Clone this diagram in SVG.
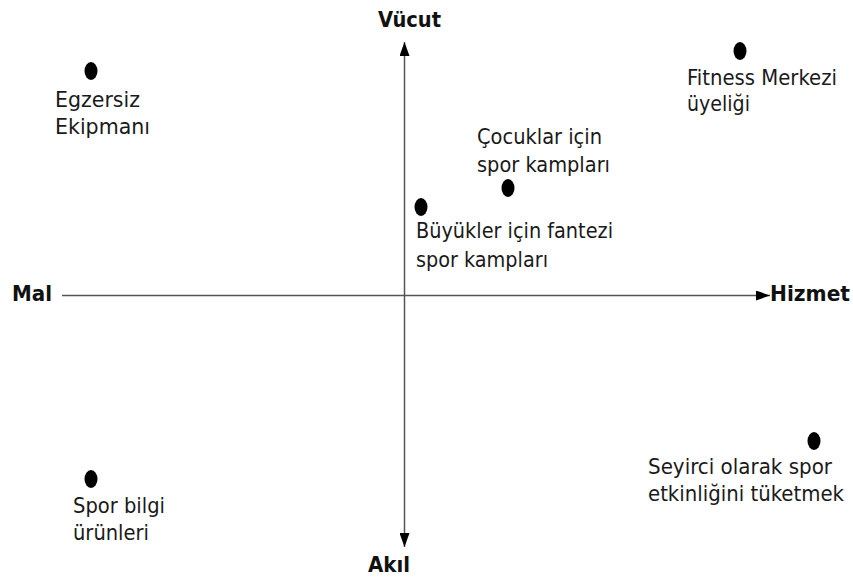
<svg xmlns="http://www.w3.org/2000/svg" width="853" height="577" viewBox="0 0 853 577">
<style>
.lbl{font-family:"DejaVu Sans Condensed","DejaVu Sans",sans-serif;font-size:22px;fill:#1a1a1a}
.ax{font-family:"DejaVu Sans","Liberation Sans",sans-serif;font-size:21px;font-weight:bold;fill:#111}
.dot{fill:#000}
.axis{stroke:#555;stroke-width:1.5;fill:none}
</style>
<defs>
<marker id="ah" viewBox="0 0 14 10" refX="14" refY="5" markerWidth="14" markerHeight="10" markerUnits="userSpaceOnUse" orient="auto">
<path d="M0,0 L14,5 L0,10 Z" fill="#000"/>
</marker>
</defs>
<rect width="853" height="577" fill="#fff"/>
<g id="connectors">
<line class="axis" x1="404.5" y1="296" x2="404.5" y2="42" marker-end="url(#ah)"/>
<line class="axis" x1="404.5" y1="296" x2="404.5" y2="547" marker-end="url(#ah)"/>
<line class="axis" x1="62" y1="295.5" x2="770" y2="295.5" marker-end="url(#ah)"/>
</g>
<g id="axis-labels">
<text class="ax" x="378" y="27" textLength="63" lengthAdjust="spacingAndGlyphs">Vücut</text>
<text class="ax" x="12" y="301" textLength="40" lengthAdjust="spacingAndGlyphs">Mal</text>
<text class="ax" x="770" y="301" textLength="80" lengthAdjust="spacingAndGlyphs">Hizmet</text>
<text class="ax" x="368" y="572" textLength="42" lengthAdjust="spacingAndGlyphs">Akıl</text>
</g>
<g id="egzersiz">
<ellipse class="dot" cx="91" cy="71" rx="6.5" ry="9"/>
<text class="lbl" x="55" y="107" textLength="85" lengthAdjust="spacingAndGlyphs">Egzersiz</text>
<text class="lbl" x="55" y="134" textLength="95" lengthAdjust="spacingAndGlyphs">Ekipmanı</text>
</g>
<g id="fitness">
<ellipse class="dot" cx="740" cy="51" rx="6.5" ry="9"/>
<text class="lbl" x="687" y="85" textLength="150" lengthAdjust="spacingAndGlyphs">Fitness Merkezi</text>
<text class="lbl" x="687" y="111" textLength="63" lengthAdjust="spacingAndGlyphs">üyeliği</text>
</g>
<g id="cocuklar">
<ellipse class="dot" cx="508" cy="188" rx="6.5" ry="9"/>
<text class="lbl" x="477" y="144" textLength="125" lengthAdjust="spacingAndGlyphs">Çocuklar için</text>
<text class="lbl" x="477" y="172" textLength="133" lengthAdjust="spacingAndGlyphs">spor kampları</text>
</g>
<g id="buyukler">
<ellipse class="dot" cx="421" cy="207" rx="6.5" ry="9"/>
<text class="lbl" x="416" y="238" textLength="197" lengthAdjust="spacingAndGlyphs">Büyükler için fantezi</text>
<text class="lbl" x="416" y="267" textLength="132" lengthAdjust="spacingAndGlyphs">spor kampları</text>
</g>
<g id="seyirci">
<ellipse class="dot" cx="814" cy="441" rx="6.5" ry="9"/>
<text class="lbl" x="648" y="474" textLength="184" lengthAdjust="spacingAndGlyphs">Seyirci olarak spor</text>
<text class="lbl" x="648" y="501" textLength="196" lengthAdjust="spacingAndGlyphs">etkinliğini tüketmek</text>
</g>
<g id="spor-bilgi">
<ellipse class="dot" cx="91" cy="479" rx="6.5" ry="9"/>
<text class="lbl" x="73" y="513" textLength="92" lengthAdjust="spacingAndGlyphs">Spor bilgi</text>
<text class="lbl" x="73" y="540" textLength="76" lengthAdjust="spacingAndGlyphs">ürünleri</text>
</g>
</svg>
